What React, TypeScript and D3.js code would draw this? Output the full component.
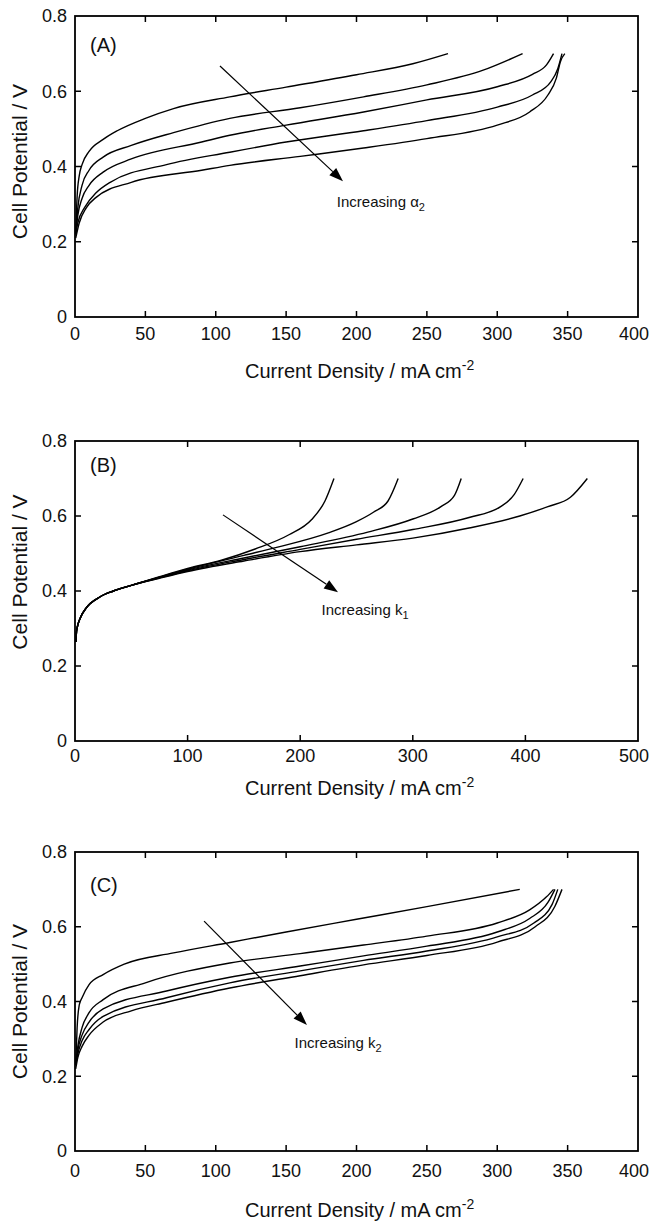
import * as React from "react";
import * as d3 from "d3";

// tick values
const xTicksAC = [0, 50, 100, 150, 200, 250, 300, 350, 400];
const xTicksB = [0, 100, 200, 300, 400, 500];
const yTicks = [0, 0.2, 0.4, 0.6, 0.8];

// panel A - increasing alpha2 (current density, cell potential)
const a1 = [[0.5, 0.22], [1.5, 0.32], [3, 0.375], [5, 0.405], [10, 0.44], [20, 0.472], [30, 0.495], [50, 0.528], [70, 0.554], [110, 0.585], [150, 0.611], [200, 0.644], [240, 0.673], [265, 0.7]];
const a2 = [[0.5, 0.22], [2, 0.29], [5, 0.35], [10, 0.39], [20, 0.425], [40, 0.456], [70, 0.49], [110, 0.528], [160, 0.556], [205, 0.585], [250, 0.617], [290, 0.656], [318, 0.7]];
const a3 = [[0.5, 0.22], [2, 0.27], [5, 0.315], [10, 0.35], [20, 0.385], [40, 0.42], [90, 0.465], [110, 0.483], [150, 0.51], [205, 0.545], [250, 0.577], [300, 0.612], [325, 0.645], [335, 0.67], [340, 0.7]];
const a4 = [[0.5, 0.22], [2, 0.25], [7, 0.292], [15, 0.33], [25, 0.358], [65, 0.405], [110, 0.438], [150, 0.465], [205, 0.495], [250, 0.522], [300, 0.558], [325, 0.59], [338, 0.625], [343, 0.66], [346, 0.7]];
const a5 = [[0.5, 0.21], [3, 0.25], [8, 0.29], [15, 0.318], [40, 0.358], [90, 0.39], [110, 0.403], [160, 0.427], [205, 0.449], [250, 0.474], [300, 0.51], [323, 0.545], [336, 0.59], [342, 0.635], [345, 0.68], [348, 0.7]];

// panel B - increasing k1
const b1 = [[0.8, 0.264], [1.5, 0.296], [5, 0.33], [10, 0.355], [22, 0.384], [34, 0.4], [50, 0.415], [75, 0.438], [100, 0.46], [130, 0.482], [160, 0.512], [190, 0.55], [210, 0.59], [222, 0.64], [230, 0.7]];
const b2 = [[0.8, 0.264], [1.5, 0.296], [5, 0.33], [10, 0.355], [22, 0.384], [34, 0.4], [50, 0.415], [75, 0.437], [100, 0.458], [150, 0.495], [180, 0.517], [225, 0.555], [250, 0.585], [265, 0.61], [278, 0.64], [287, 0.7]];
const b3 = [[0.8, 0.264], [1.5, 0.296], [5, 0.33], [10, 0.355], [22, 0.384], [34, 0.4], [50, 0.415], [75, 0.436], [100, 0.456], [150, 0.488], [200, 0.518], [260, 0.557], [300, 0.592], [325, 0.625], [337, 0.655], [343, 0.7]];
const b4 = [[0.8, 0.264], [1.5, 0.296], [5, 0.33], [10, 0.355], [22, 0.384], [34, 0.4], [50, 0.415], [75, 0.435], [100, 0.454], [150, 0.484], [200, 0.511], [250, 0.538], [300, 0.564], [350, 0.596], [378, 0.625], [390, 0.657], [398, 0.7]];
const b5 = [[0.8, 0.264], [1.5, 0.296], [5, 0.33], [10, 0.355], [22, 0.384], [34, 0.4], [50, 0.415], [75, 0.434], [100, 0.452], [150, 0.48], [200, 0.505], [250, 0.523], [300, 0.541], [350, 0.568], [395, 0.6], [420, 0.625], [440, 0.65], [455, 0.7]];

// panel C - increasing k2
const c1 = [[0.5, 0.23], [1.5, 0.33], [3, 0.39], [5, 0.41], [10, 0.445], [20, 0.472], [35, 0.5], [70, 0.53], [110, 0.558], [150, 0.586], [200, 0.62], [250, 0.654], [316, 0.7]];
const c2 = [[0.5, 0.23], [2, 0.28], [5, 0.33], [10, 0.37], [20, 0.405], [50, 0.45], [110, 0.503], [160, 0.528], [205, 0.551], [250, 0.575], [300, 0.61], [323, 0.645], [335, 0.68], [340, 0.7]];
const c3 = [[0.5, 0.23], [2, 0.27], [5, 0.31], [10, 0.345], [20, 0.38], [65, 0.428], [110, 0.465], [160, 0.495], [205, 0.522], [250, 0.548], [300, 0.586], [323, 0.622], [336, 0.665], [341, 0.7]];
const c4 = [[0.5, 0.23], [2, 0.26], [5, 0.295], [10, 0.325], [20, 0.36], [65, 0.41], [110, 0.45], [160, 0.482], [205, 0.51], [250, 0.535], [300, 0.573], [326, 0.61], [339, 0.66], [343, 0.7]];
const c5 = [[0.5, 0.22], [2, 0.25], [5, 0.28], [10, 0.31], [20, 0.345], [40, 0.375], [65, 0.398], [110, 0.436], [160, 0.469], [205, 0.498], [250, 0.523], [300, 0.559], [327, 0.6], [341, 0.655], [346, 0.7]];

const W = 650;
const H = 1221;
const left = 75;
const right = 638;
const font = "'Liberation Sans', Arial, Helvetica, sans-serif";

const panels = [
  { label: "(A)", top: 16, bottom: 317, xMax: 400, xTicks: xTicksAC, series: [a1, a2, a3, a4, a5], labelY: 0.723, arrow: [[103, 0.667], [190.4, 0.361]], note: [186, 0.292], noteMain: "Increasing \u03b1", noteSub: "2", tickDy: 22.5, titleDy: 61, yTitleShift: -5 },
  { label: "(B)", top: 441, bottom: 741, xMax: 500, xTicks: xTicksB, series: [b1, b2, b3, b4, b5], labelY: 0.736, arrow: [[131.4, 0.603], [233.6, 0.397]], note: [219, 0.336], noteMain: "Increasing k", noteSub: "1", tickDy: 20.5, titleDy: 54, yTitleShift: -19 },
  { label: "(C)", top: 852, bottom: 1151, xMax: 400, xTicks: xTicksAC, series: [c1, c2, c3, c4, c5], labelY: 0.712, arrow: [[91.7, 0.615], [164.8, 0.337]], note: [156, 0.276], noteMain: "Increasing k", noteSub: "2", tickDy: 25.5, titleDy: 66, yTitleShift: 0 },
];

function Panel({ p }) {
  const x = d3.scaleLinear().domain([0, p.xMax]).range([left, right]);
  const y = d3.scaleLinear().domain([0, 0.8]).range([p.bottom, p.top]);
  const line = d3
    .line()
    .x((d) => x(d[0]))
    .y((d) => y(d[1]))
    .curve(d3.curveMonotoneX);
  const tk = 6;

  // arrow in pixels
  const [s, e] = p.arrow;
  const x0 = x(s[0]), y0 = y(s[1]), x1 = x(e[0]), y1 = y(e[1]);
  const ang = Math.atan2(y1 - y0, x1 - x0);
  const hl = 14, hw = 5;
  const bx = x1 - hl * Math.cos(ang), by = y1 - hl * Math.sin(ang);
  const head = [
    [x1, y1],
    [bx + hw * Math.sin(ang), by - hw * Math.cos(ang)],
    [bx - hw * Math.sin(ang), by + hw * Math.cos(ang)],
  ];

  const midY = (p.top + p.bottom) / 2 + p.yTitleShift;
  const lastTick = p.xTicks[p.xTicks.length - 1];

  return (
    <g fontFamily={font} fill="#111">
      {p.series.map((d, i) => (
        <path key={i} d={line(d)} fill="none" stroke="#000" strokeWidth={1.4} />
      ))}
      {/* inward ticks on all four sides */}
      {p.xTicks.slice(1, -1).map((t) => (
        <g key={"x" + t} stroke="#000" strokeWidth={1.5}>
          <line x1={x(t)} x2={x(t)} y1={p.bottom} y2={p.bottom - tk} />
          <line x1={x(t)} x2={x(t)} y1={p.top} y2={p.top + tk} />
        </g>
      ))}
      {yTicks.slice(1, -1).map((t) => (
        <g key={"y" + t} stroke="#000" strokeWidth={1.5}>
          <line x1={left} x2={left + tk} y1={y(t)} y2={y(t)} />
          <line x1={right} x2={right - tk} y1={y(t)} y2={y(t)} />
        </g>
      ))}
      <rect x={left} y={p.top} width={right - left} height={p.bottom - p.top} fill="none" stroke="#000" strokeWidth={1.8} />
      {p.xTicks.map((t) => (
        <text
          key={"xl" + t}
          x={t === lastTick ? W - 1 : x(t)}
          y={p.bottom + p.tickDy}
          fontSize={18}
          textAnchor={t === lastTick ? "end" : "middle"}
        >
          {t}
        </text>
      ))}
      {yTicks.map((t) => (
        <text key={"yl" + t} x={left - 8} y={y(t)} dy="0.35em" fontSize={18} textAnchor="end">
          {t}
        </text>
      ))}
      <text x={245} y={p.bottom + p.titleDy} fontSize={20}>
        Current Density / mA cm
        <tspan fontSize={14} dy={-8}>-2</tspan>
      </text>
      <text transform={`translate(27,${midY}) rotate(-90)`} fontSize={21} textAnchor="middle">
        Cell Potential / V
      </text>
      <text x={90} y={y(p.labelY)} dy="0.35em" fontSize={20}>
        {p.label}
      </text>
      <line x1={x0} y1={y0} x2={bx} y2={by} stroke="#000" strokeWidth={1.2} />
      <polygon points={head.map((q) => q.join(",")).join(" ")} fill="#000" />
      <text x={x(p.note[0])} y={y(p.note[1])} fontSize={15}>
        {p.noteMain}
        <tspan fontSize={11} dy={4}>{p.noteSub}</tspan>
      </text>
    </g>
  );
}

export default function App() {
  return (
    <svg width={W} height={H} style={{ position: "absolute", left: 0, top: 0, background: "#fff" }}>
      <rect width={W} height={H} fill="#fff" />
      {panels.map((p) => (
        <Panel key={p.label} p={p} />
      ))}
    </svg>
  );
}
